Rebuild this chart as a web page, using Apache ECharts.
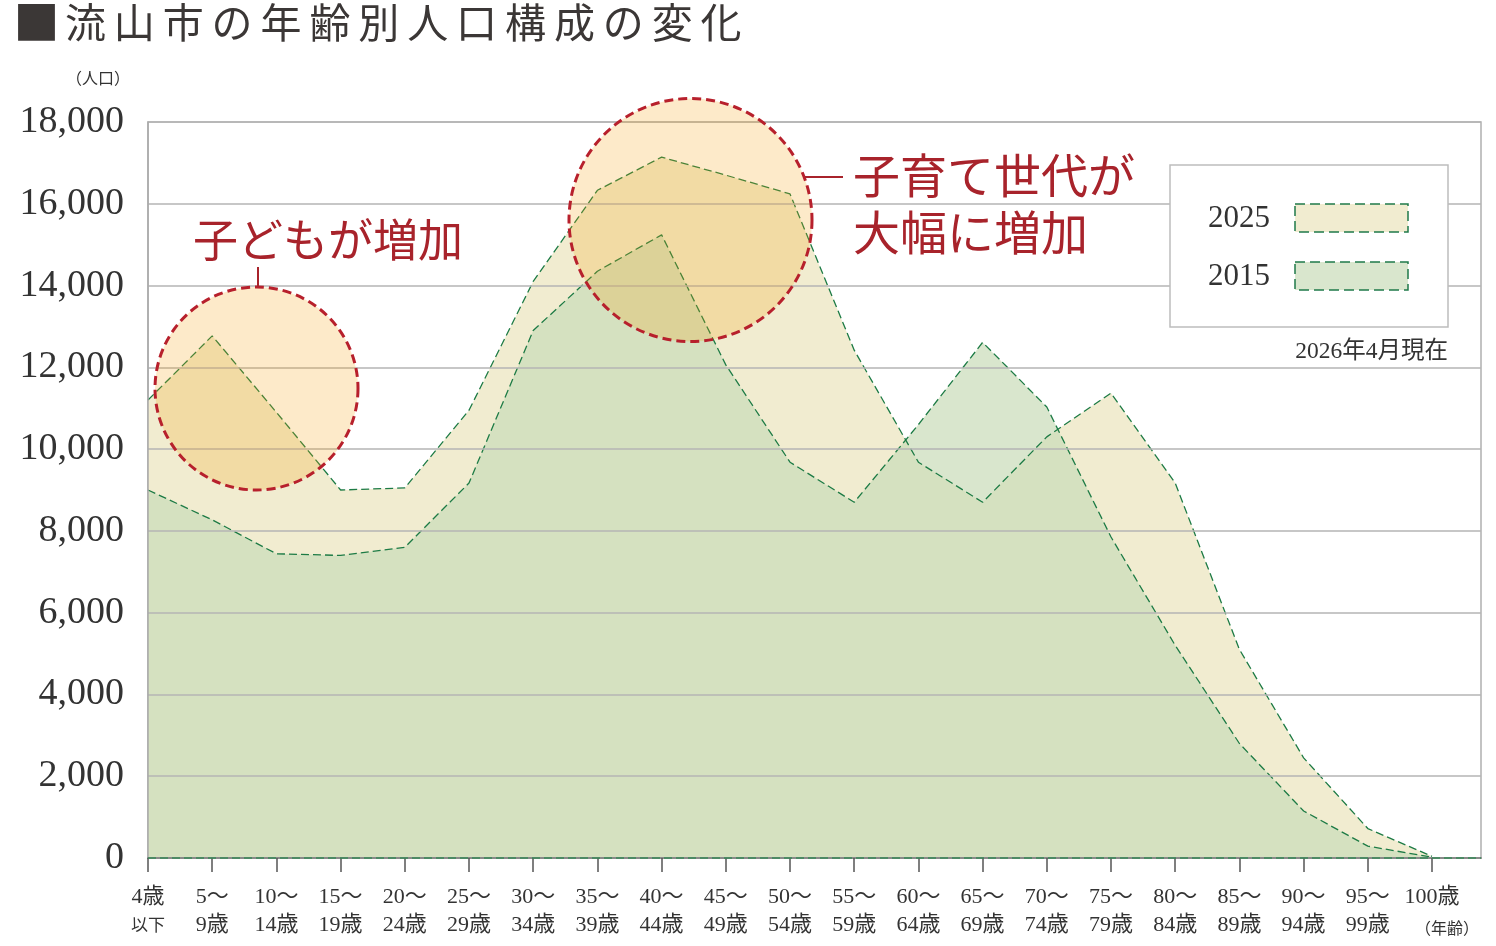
<!DOCTYPE html>
<html>
<head>
<meta charset="utf-8">
<script src="https://cdn.jsdelivr.net/npm/echarts@6/dist/echarts.min.js"></script>
<style>
  html, body { margin: 0; padding: 0; background: #fff; }
  #main { width: 1496px; height: 946px; }
</style>
</head>
<body>
<div id="main"></div>
<script>
// 年齢区分
const categories = ['4歳\n以下', '5～\n9歳', '10～\n14歳', '15～\n19歳', '20～\n24歳', '25～\n29歳', '30～\n34歳',
  '35～\n39歳', '40～\n44歳', '45～\n49歳', '50～\n54歳', '55～\n59歳', '60～\n64歳', '65～\n69歳', '70～\n74歳',
  '75～\n79歳', '80～\n84歳', '85～\n89歳', '90～\n94歳', '95～\n99歳', '100歳'];
// 人口
const pop2025 = [11200, 12770, 10900, 9000, 9050, 10950, 14100, 16330, 17140, 16700, 16240, 12420, 9680, 8700, 10300, 11370, 9170, 5100, 2450, 720, 40];
const pop2015 = [9000, 8270, 7440, 7400, 7600, 9170, 12900, 14350, 15240, 12060, 9680, 8700, 10600, 12610, 11030, 7850, 5200, 2800, 1150, 290, 20];
const yTicks = [0, 2000, 4000, 6000, 8000, 10000, 12000, 14000, 16000, 18000];

const serif = '"Liberation Serif", "Noto Sans CJK JP", serif';
const jp = '"Noto Sans CJK JP", sans-serif';
const red = '#a8232b';
const lineGreen = '#1d7b45';
const xTicks = categories.map((c, i) => i);

var chartDom = document.getElementById('main');
var myChart = echarts.init(chartDom);

// タイトル（一文字ずつ並べて字間を空ける）
const titleText = '■流山市の年齢別人口構成の変化';
const titleParts = Array.from(titleText).map((ch, i) => ({
  type: 'text', x: 36.5 + i * 48.9, y: 22, z: 20,
  style: { text: ch, fill: '#3b3736', fontSize: i === 0 ? 46 : 41, fontFamily: jp,
    align: 'center', verticalAlign: 'middle', textAlign: 'center', textVerticalAlign: 'middle' }
}));

var option = {
  animation: false,
  grid: { left: 148, top: 122, right: 15, bottom: 88, show: true, borderColor: '#b0b0b0', borderWidth: 1.5 },
  xAxis: {
    type: 'value', min: 0, max: 20.763, z: 4,
    axisLine: { show: true, lineStyle: { color: '#8a8a8a', width: 2 } },
    axisTick: { show: true, length: 14, customValues: xTicks, lineStyle: { color: '#555', width: 1.5 } },
    splitLine: { show: false },
    axisLabel: {
      customValues: xTicks, margin: 25, color: '#333', fontFamily: serif, fontSize: 22, lineHeight: 28,
      showMinLabel: true, showMaxLabel: true, hideOverlap: false,
      formatter: function (v) {
        const i = Math.round(v);
        if (i === 0) return '4歳\n{s|以下}';
        return categories[i] || '';
      },
      rich: {
        s: { fontSize: 17, fontFamily: jp, color: '#333', lineHeight: 28 }
      }
    }
  },
  yAxis: {
    type: 'value', min: 0, max: 18000, interval: 2000, z: 3,
    axisLine: { show: true, lineStyle: { color: '#aaa', width: 1.5 } },
    axisTick: { show: false },
    splitLine: { lineStyle: { color: '#b4b4b4', width: 1.5 } },
    axisLabel: { fontSize: 38, fontFamily: serif, color: '#333', margin: 24 }
  },
  series: [
    {
      name: '2025', type: 'line', symbol: 'none', z: 2,
      data: pop2025.map((v, i) => [i, v]),
      lineStyle: { color: lineGreen, width: 1.3, type: [8, 4] },
      areaStyle: { color: '#f1ecd0', opacity: 1 }
    },
    {
      name: '2015', type: 'line', symbol: 'none', z: 2,
      data: pop2015.map((v, i) => [i, v]),
      lineStyle: { color: lineGreen, width: 1.3, type: [8, 4] },
      areaStyle: { color: 'rgb(203,221,186)', opacity: 0.73 },
      markLine: {
        silent: true, symbol: 'none', label: { show: false },
        lineStyle: { color: '#3a8a5a', width: 1.5, type: [8, 4] },
        data: [{ yAxis: 0 }]
      }
    }
  ],
  graphic: titleParts.concat([
    { type: 'text', x: 98, y: 78, z: 20,
      style: { text: '（人口）', fill: '#333', fontSize: 16, fontFamily: jp, align: 'center', verticalAlign: 'middle', textAlign: 'center', textVerticalAlign: 'middle' } },
    { type: 'text', x: 1447, y: 928, z: 20,
      style: { text: '（年齢）', fill: '#333', fontSize: 16, fontFamily: jp, align: 'center', verticalAlign: 'middle', textAlign: 'center', textVerticalAlign: 'middle' } },
    // 注釈の円
    { type: 'circle', z: 10, shape: { cx: 256.5, cy: 388.5, r: 101.5 },
      style: { fill: 'rgba(245,158,10,0.22)', stroke: '#b7202c', lineWidth: 3, lineDash: [9, 5] } },
    { type: 'circle', z: 10, shape: { cx: 690.5, cy: 220, r: 121.5 },
      style: { fill: 'rgba(245,158,10,0.22)', stroke: '#b7202c', lineWidth: 3, lineDash: [9, 5] } },
    { type: 'line', z: 10, shape: { x1: 258, y1: 267, x2: 258, y2: 287 }, style: { stroke: red, lineWidth: 2 } },
    { type: 'line', z: 10, shape: { x1: 805, y1: 177, x2: 843, y2: 177 }, style: { stroke: red, lineWidth: 2 } },
    { type: 'text', x: 193, y: 240, z: 20,
      style: { text: '子どもが増加', fill: red, fontSize: 45, fontFamily: jp, align: 'left', verticalAlign: 'middle', textAlign: 'left', textVerticalAlign: 'middle' } },
    { type: 'text', x: 853, y: 146.5, z: 20,
      style: { text: '子育て世代が\n大幅に増加', fill: red, fontSize: 47, lineHeight: 57, fontFamily: jp, align: 'left', verticalAlign: 'top', textAlign: 'left', textVerticalAlign: 'top' } },
    // 凡例
    { type: 'rect', z: 15, shape: { x: 1170, y: 165, width: 278, height: 162 },
      style: { fill: '#fff', stroke: '#bdbdbd', lineWidth: 1.5 } },
    { type: 'text', x: 1270, y: 219, z: 16,
      style: { text: '2025', fill: '#333', fontSize: 31, fontFamily: serif, align: 'right', verticalAlign: 'middle', textAlign: 'right', textVerticalAlign: 'middle' } },
    { type: 'rect', z: 16, shape: { x: 1295, y: 204, width: 113, height: 28 },
      style: { fill: '#f1ecd0', stroke: '#1f7a4a', lineWidth: 1.5, lineDash: [10, 5] } },
    { type: 'text', x: 1270, y: 277, z: 16,
      style: { text: '2015', fill: '#333', fontSize: 31, fontFamily: serif, align: 'right', verticalAlign: 'middle', textAlign: 'right', textVerticalAlign: 'middle' } },
    { type: 'rect', z: 16, shape: { x: 1295, y: 262, width: 113, height: 28 },
      style: { fill: '#d9e6cd', stroke: '#1f7a4a', lineWidth: 1.5, lineDash: [10, 5] } },
    { type: 'text', x: 1448, y: 352, z: 16,
      style: { text: '2026年4月現在', fill: '#333', fontSize: 23.5, fontFamily: serif, align: 'right', verticalAlign: 'middle', textAlign: 'right', textVerticalAlign: 'middle' } }
  ])
};

option && myChart.setOption(option);
</script>
</body>
</html>
